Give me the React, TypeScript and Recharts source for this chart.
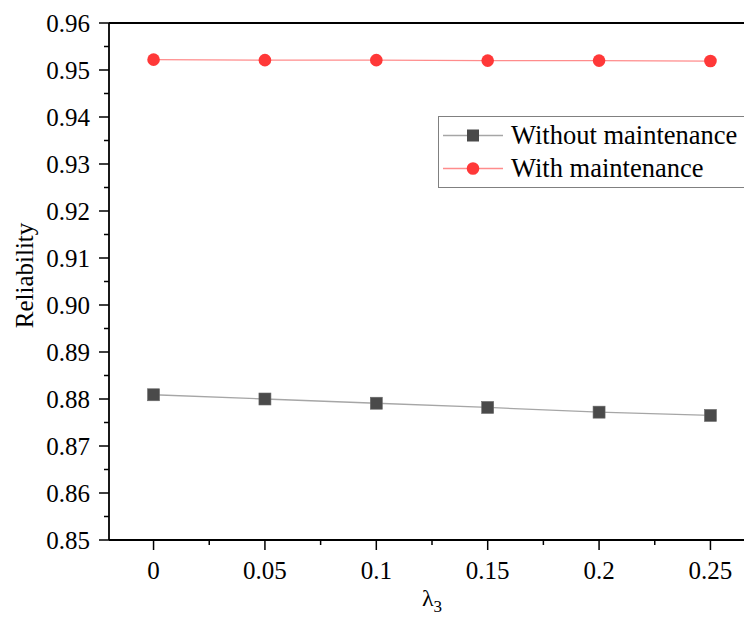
import React from 'react';
import { LineChart, Line, XAxis, YAxis, ReferenceLine, Legend } from 'recharts';

const FONT = '"Liberation Serif", "Times New Roman", serif';
const textStyle = { fontFamily: FONT, fill: '#000' };

// λ3 values on the x axis
const lambda3 = [0, 0.05, 0.1, 0.15, 0.2, 0.25];
const withoutMaintenance = [0.8809, 0.88, 0.8791, 0.8782, 0.8772, 0.8765];
const withMaintenance = [0.9522, 0.9521, 0.9521, 0.952, 0.952, 0.9519];

const xMajor = [0, 0.05, 0.1, 0.15, 0.2, 0.25];
const yMajor = [0.85, 0.86, 0.87, 0.88, 0.89, 0.9, 0.91, 0.92, 0.93, 0.94, 0.95, 0.96];

const seriesNames = ['Without maintenance', 'With maintenance'];

const xMinor = xMajor.map((v) => v + 0.025);
const yMinor = yMajor.slice(0, -1).map((v, i) => (v + yMajor[i + 1]) / 2);

const data = lambda3.map((l, i) => ({
  lambda: l,
  without: withoutMaintenance[i],
  with: withMaintenance[i],
}));

const X_TICK = 10;
const X_GAP = 11;
const Y_TICK = 10;
const Y_GAP = 9;
const TICK_FONT = 25;

const XTick = (props: any) => {
  const { x, y, payload } = props;
  const axisY = y - X_TICK - X_GAP;
  const minor = xMinor.includes(payload.value);
  return (
    <g>
      <line x1={x} x2={x} y1={axisY} y2={axisY + (minor ? 5 : X_TICK)} stroke="#000" strokeWidth={1.5} />
      {!minor && (
        <text x={x} y={y} dy="0.7em" textAnchor="middle" style={{ ...textStyle, fontSize: TICK_FONT }}>
          {String(payload.value)}
        </text>
      )}
    </g>
  );
};

const YTick = (props: any) => {
  const { x, y, payload } = props;
  const axisX = x + Y_TICK + Y_GAP;
  const minor = yMinor.includes(payload.value);
  return (
    <g>
      <line x1={axisX} x2={axisX - (minor ? 5 : Y_TICK)} y1={y} y2={y} stroke="#000" strokeWidth={1.5} />
      {!minor && (
        <text x={x} y={y} dy="0.34em" textAnchor="end" style={{ ...textStyle, fontSize: TICK_FONT }}>
          {payload.value.toFixed(2)}
        </text>
      )}
    </g>
  );
};

const XLabel = (props: any) => {
  const { x, y, width } = props.viewBox;
  return (
    <text x={x + width / 2} y={y + 66} textAnchor="middle" style={{ ...textStyle, fontSize: 24 }}>
      λ<tspan style={{ fontSize: 17 }} dy={6}>3</tspan>
    </text>
  );
};

const YLabel = (props: any) => {
  const { y, height } = props.viewBox;
  const cx = 33;
  const cy = y + height / 2 - 6;
  return (
    <text
      x={cx}
      y={cy}
      textAnchor="middle"
      transform={`rotate(-90, ${cx}, ${cy})`}
      style={{ ...textStyle, fontSize: 25 }}
    >
      Reliability
    </text>
  );
};

const SquareDot = (props: any) => {
  const { cx, cy } = props;
  return <rect x={cx - 6} y={cy - 6} width={12} height={12} fill="#4a4a4a" stroke="#6a6a6a" strokeWidth={0.6} />;
};

const CircleDot = (props: any) => {
  const { cx, cy } = props;
  return <circle cx={cx} cy={cy} r={6.3} fill="#ff3838" />;
};

const legendMarks = [
  { line: '#a6a6a6', mark: 'square' },
  { line: '#ff8c8c', mark: 'circle' },
];

const LegendBox = () => (
  <div
    style={{
      border: '1.5px solid #808080',
      background: '#fff',
      width: 330,
      height: 66,
      padding: '2px 0',
      fontFamily: FONT,
      fontSize: 26.5,
      color: '#000',
    }}
  >
    {seriesNames.map((name, i) => (
      <div key={name} style={{ display: 'flex', alignItems: 'center', height: 33 }}>
        <svg width={72} height={33} style={{ flex: 'none' }}>
          <line x1={4} x2={64} y1={16.5} y2={16.5} stroke={legendMarks[i].line} strokeWidth={1.5} />
          {legendMarks[i].mark === 'square' ? (
            <rect x={28} y={10.5} width={12} height={12} fill="#4a4a4a" />
          ) : (
            <circle cx={34} cy={16.5} r={6.3} fill="#ff3838" />
          )}
        </svg>
        <span style={{ whiteSpace: 'nowrap', lineHeight: '33px' }}>{name}</span>
      </div>
    ))}
  </div>
);

export default function App() {
  return (
    <div
      style={{
        position: 'fixed',
        left: 0,
        top: 0,
        width: 744,
        height: 620,
        overflow: 'hidden',
        background: '#fff',
      }}
    >
      <LineChart
        width={760}
        height={620}
        data={data}
        margin={{ top: 23, right: 5, bottom: 0, left: 0 }}
        style={{ fontFamily: FONT }}
      >
        <XAxis
          dataKey="lambda"
          type="number"
          domain={[-0.02, 0.27]}
          ticks={[...xMajor, ...xMinor].filter((v) => v < 0.27)}
          interval={0}
          allowDataOverflow
          height={80}
          tickSize={X_TICK}
          tickMargin={X_GAP}
          tickLine={false}
          tick={<XTick />}
          axisLine={{ stroke: '#000', strokeWidth: 1.8 }}
          label={<XLabel />}
        />
        <YAxis
          type="number"
          domain={[0.85, 0.96]}
          ticks={[...yMajor, ...yMinor]}
          interval={0}
          allowDataOverflow
          width={109}
          tickSize={Y_TICK}
          tickMargin={Y_GAP}
          tickLine={false}
          tick={<YTick />}
          axisLine={{ stroke: '#000', strokeWidth: 1.8 }}
          label={<YLabel />}
        />
        <ReferenceLine y={0.96} stroke="#000" strokeWidth={1.8} />
        <ReferenceLine x={0.27} stroke="#000" strokeWidth={1.8} />
        <Line
          type="linear"
          dataKey="without"
          name={seriesNames[0]}
          stroke="#a6a6a6"
          strokeWidth={1.3}
          dot={<SquareDot />}
          activeDot={false}
          isAnimationActive={false}
        />
        <Line
          type="linear"
          dataKey="with"
          name={seriesNames[1]}
          stroke="#ff8c8c"
          strokeWidth={1.3}
          dot={<CircleDot />}
          activeDot={false}
          isAnimationActive={false}
        />
        <Legend
          layout="vertical"
          align="center"
          verticalAlign="middle"
          wrapperStyle={{ left: 438, top: 116, width: 340, height: 72 }}
          content={<LegendBox />}
        />
      </LineChart>
    </div>
  );
}
